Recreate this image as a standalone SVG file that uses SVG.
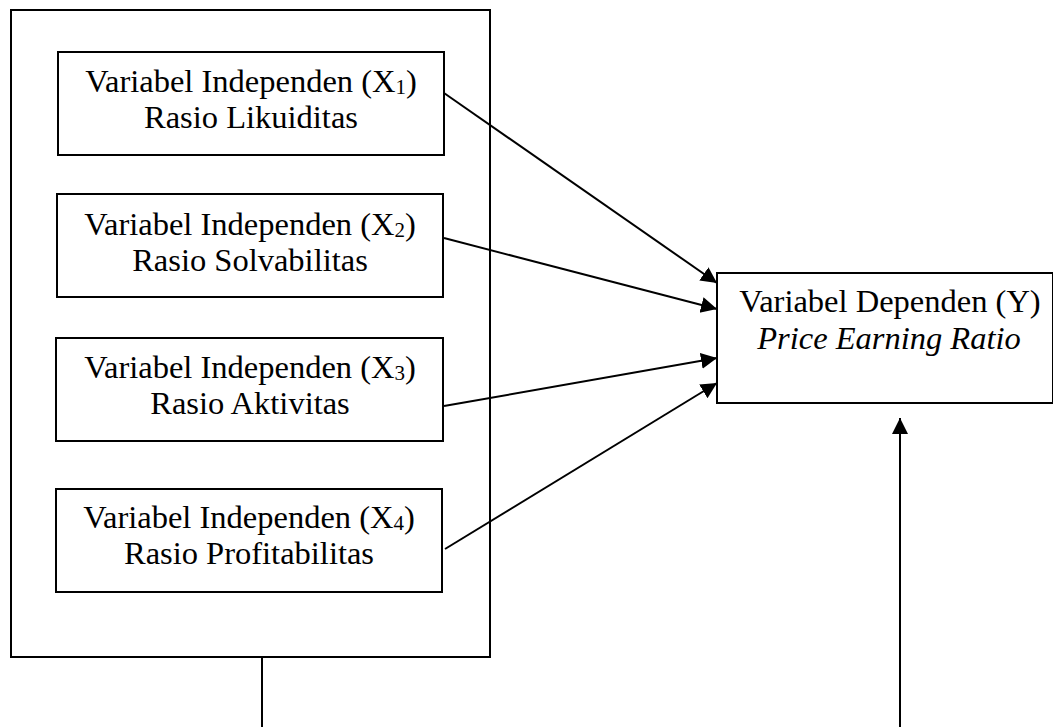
<svg xmlns="http://www.w3.org/2000/svg" width="1053" height="727" viewBox="0 0 1053 727">
<style>
.box{fill:#fff;stroke:#000;stroke-width:2}
.t{font-family:"Liberation Serif","Times New Roman",serif;font-size:32.5px;fill:#000;text-anchor:middle}
.sub{font-size:21px}
.it{font-style:italic}
.c{stroke:#000;stroke-width:2;fill:none}
</style>
<defs>
<marker id="ah" markerUnits="userSpaceOnUse" markerWidth="17" markerHeight="17" refX="16" refY="8" orient="auto">
<path d="M0,0 L16,8 L0,16 Z" fill="#000"/>
</marker>
</defs>
<rect width="1053" height="727" fill="#fff"/>
<g id="outer"><rect class="box" x="11" y="10" width="479" height="647"/></g>
<g id="x1"><rect class="box" x="58" y="52" width="386" height="103"/>
<text class="t" x="251" y="92">Variabel Independen (X<tspan class="sub" dy="2">1</tspan><tspan dy="-2">)</tspan></text>
<text class="t" x="251" y="128">Rasio Likuiditas</text></g>
<g id="x2"><rect class="box" x="57" y="194" width="386" height="103"/>
<text class="t" x="250" y="235">Variabel Independen (X<tspan class="sub" dy="2">2</tspan><tspan dy="-2">)</tspan></text>
<text class="t" x="250" y="271">Rasio Solvabilitas</text></g>
<g id="x3"><rect class="box" x="56" y="338" width="387" height="103"/>
<text class="t" x="250" y="378">Variabel Independen (X<tspan class="sub" dy="2">3</tspan><tspan dy="-2">)</tspan></text>
<text class="t" x="250" y="414">Rasio Aktivitas</text></g>
<g id="x4"><rect class="box" x="56" y="489" width="386" height="103"/>
<text class="t" x="249" y="528">Variabel Independen (X<tspan class="sub" dy="2">4</tspan><tspan dy="-2">)</tspan></text>
<text class="t" x="249" y="564">Rasio Profitabilitas</text></g>
<g id="y"><rect class="box" x="717" y="273" width="336" height="130"/>
<text class="t" x="890" y="312">Variabel Dependen (Y)</text>
<text class="t it" x="889" y="349">Price Earning Ratio</text></g>
<g id="connectors">
<line class="c" x1="444" y1="93" x2="717" y2="283" marker-end="url(#ah)"/>
<line class="c" x1="444" y1="238" x2="717" y2="309" marker-end="url(#ah)"/>
<line class="c" x1="444" y1="406" x2="717" y2="358" marker-end="url(#ah)"/>
<line class="c" x1="445" y1="549" x2="717" y2="383" marker-end="url(#ah)"/>
<line class="c" x1="262" y1="657" x2="262" y2="727"/>
<line class="c" x1="900" y1="727" x2="900" y2="418" marker-end="url(#ah)"/>
</g>
</svg>
